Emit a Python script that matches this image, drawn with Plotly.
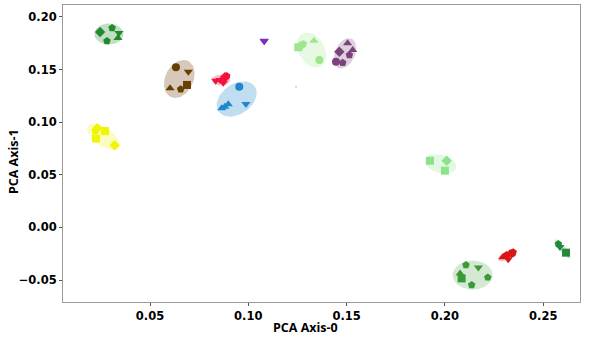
import numpy as np
import plotly.graph_objects as go

# cluster colours: marker colour, ellipse fill colour
marker_colors = ['#238a2c', '#6a3d02', '#f2123e', '#1d87c9', '#7b2fc2', '#f0f500',
                 '#9ee68c', '#7b437b', '#8de38a', '#3b9a38', '#d91515', '#238a3a']
fill_colors = ['rgba(35,138,44,0.28)', 'rgba(106,61,2,0.28)', 'rgba(242,18,62,0.28)',
               'rgba(29,135,201,0.28)', 'rgba(123,47,194,0.28)', 'rgba(240,245,0,0.25)',
               'rgba(158,230,140,0.25)', 'rgba(123,67,123,0.25)', 'rgba(141,227,138,0.25)',
               'rgba(59,154,56,0.22)', 'rgba(217,21,21,0.25)', 'rgba(35,138,58,0.22)']

# PCA scores per cluster
xs = [
    [0.0246, 0.0307, 0.0342, 0.0281, 0.0337],
    [0.0632, 0.0695, 0.0602, 0.0656, 0.0688],
    [0.0834, 0.0856, 0.0881, 0.0873, 0.0890],
    [0.0954, 0.0988, 0.0865, 0.0881, 0.0898],
    [0.1080, 0.1081],
    [0.0232, 0.0271, 0.0225, 0.0320, 0.0222],
    [0.1266, 0.1280, 0.1334, 0.1361, 0.1254],
    [0.1505, 0.1531, 0.1463, 0.1514, 0.1446, 0.1480],
    [0.1924, 0.2009, 0.2000],
    [0.2107, 0.2170, 0.2077, 0.2085, 0.2218, 0.2136],
    [0.2294, 0.2314, 0.2340, 0.2322, 0.2347],
    [0.2577, 0.2585, 0.2616],
]
ys = [
    [0.1857, 0.1895, 0.1848, 0.1772, 0.1800],
    [0.1522, 0.1480, 0.1322, 0.1313, 0.1354],
    [0.1394, 0.1401, 0.1427, 0.1375, 0.1439],
    [0.1337, 0.1173, 0.1132, 0.1147, 0.1170],
    [0.1775, 0.1770],
    [0.0942, 0.0916, 0.0845, 0.0780, 0.0916],
    [0.1724, 0.1743, 0.1775, 0.1591, 0.1712],
    [0.1750, 0.1686, 0.1670, 0.1639, 0.1575, 0.1566],
    [0.0634, 0.0634, 0.0539],
    [-0.0358, -0.0380, -0.0437, -0.0485, -0.0475, -0.0548],
    [-0.0284, -0.0262, -0.0246, -0.0303, -0.0237],
    [-0.0158, -0.0186, -0.0240],
]
symbols = [
    ['diamond', 'pentagon', 'triangle-down', 'pentagon', 'triangle-up'],
    ['circle', 'triangle-down', 'triangle-up', 'pentagon', 'square'],
    ['triangle-down', 'triangle-down', 'diamond', 'triangle-down', 'pentagon'],
    ['circle', 'triangle-down', 'triangle-up', 'triangle-up', 'triangle-up'],
    ['triangle-down', 'triangle-down'],
    ['diamond', 'square', 'square', 'diamond', 'pentagon'],
    ['diamond', 'pentagon', 'triangle-up', 'circle', 'square'],
    ['triangle-up', 'triangle-up', 'diamond', 'pentagon', 'circle', 'pentagon'],
    ['square', 'diamond', 'square'],
    ['pentagon', 'triangle-down', 'triangle-up', 'square', 'pentagon', 'pentagon'],
    ['triangle-up', 'pentagon', 'circle', 'triangle-down', 'pentagon'],
    ['pentagon', 'triangle-down', 'square'],
]

# confidence ellipses: centre and two semi-axis vectors (data units)
ell_cx = [0.0291, 0.0649, 0.0861, 0.0941, 0.1080, 0.0263, 0.1322, 0.1492, 0.1978, 0.2141, 0.2314, 0.2598]
ell_cy = [0.1838, 0.1411, 0.1401, 0.1220, 0.1773, 0.0863, 0.1686, 0.1655, 0.0603, -0.0453, -0.0272, -0.0204]
ell_u = [(0.0074, 0.0), (0.0043, 0.0172), (0.0046, 0.0), (0.0092, 0.0120), (0.0010, 0.0),
         (0.0079, -0.0104), (0.0048, -0.0154), (0.0034, 0.0138), (0.0079, -0.0039),
         (0.0102, 0.0), (0.0042, 0.0036), (0.0038, -0.0091)]
ell_v = [(0.0, 0.0100), (-0.0065, 0.0056), (0.0, 0.0052), (-0.0044, 0.0117), (0.0, 0.0015),
         (0.0026, 0.0070), (0.0057, 0.0062), (-0.0046, 0.0040), (0.0012, 0.0083),
         (0.0, 0.0138), (-0.0009, 0.0035), (0.0012, 0.0018)]

x_ticks = [0.05, 0.10, 0.15, 0.20, 0.25]
x_labels = ['0.05', '0.10', '0.15', '0.20', '0.25']
y_ticks = [-0.05, 0.0, 0.05, 0.10, 0.15, 0.20]
y_labels = ['\u22120.05', '0.00', '0.05', '0.10', '0.15', '0.20']

fig = go.Figure()
t = np.linspace(0, 2 * np.pi, 80)
for i in range(len(ell_cx)):
    ex = ell_cx[i] + ell_u[i][0] * np.cos(t) + ell_v[i][0] * np.sin(t)
    ey = ell_cy[i] + ell_u[i][1] * np.cos(t) + ell_v[i][1] * np.sin(t)
    fig.add_trace(go.Scatter(x=ex, y=ey, mode='lines', fill='toself',
                             fillcolor=fill_colors[i], line=dict(width=0),
                             hoverinfo='skip', showlegend=False))

for i in range(len(xs)):
    fig.add_trace(go.Scatter(x=xs[i], y=ys[i], mode='markers', showlegend=False,
                             marker=dict(color=marker_colors[i], size=8, symbol=symbols[i],
                                         line=dict(width=0))))

# stray faint point
fig.add_trace(go.Scatter(x=[0.1243], y=[0.1337], mode='markers', showlegend=False,
                         marker=dict(color='#9fd8d8', size=2)))

axis_font = dict(family='DejaVu Sans', size=11.5, color='black')
title_font = dict(family='Open Sans', size=12.5, color='black')
common = dict(showgrid=False, zeroline=False, showline=True, linecolor='#9a9a9a',
              linewidth=1, mirror=True, ticks='outside', ticklen=3, tickcolor='#555',
              tickfont=axis_font, automargin=False)
fig.update_xaxes(range=[0.00575, 0.2687], tickvals=x_ticks,
                 ticktext=['<b>%s</b>' % s for s in x_labels], **common)
fig.update_yaxes(range=[-0.0709, 0.2114], tickvals=y_ticks,
                 ticktext=['<b>%s</b>' % s for s in y_labels], **common)

# axis titles placed as annotations to match the offsets of the original
fig.add_annotation(text='<b>PCA Axis-0</b>', xref='paper', yref='paper', x=0.469, y=0,
                   yanchor='middle', yshift=-25, showarrow=False, font=title_font)
fig.add_annotation(text='<b>PCA Axis-1</b>', xref='paper', yref='paper', x=0, y=0.471,
                   xanchor='center', xshift=-50, textangle=-90, showarrow=False, font=title_font)

fig.update_layout(width=598, height=349, plot_bgcolor='white', paper_bgcolor='white',
                  margin=dict(l=63, r=18, t=5, b=47),
                  font=dict(family='DejaVu Sans', size=12, color='black'))

# drop the browser's default body margin so the figure sits at the page corner
fig.write_html("out.html", config={'displayModeBar': False},
               post_script="document.body.style.margin='0px';")
